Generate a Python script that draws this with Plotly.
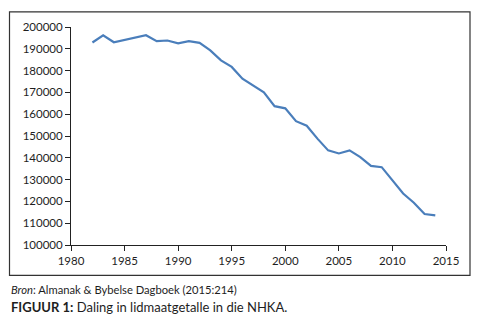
import plotly.graph_objects as go

years = list(range(1982, 2015))
members = [192900, 196200, 193000, 194000, 195100, 196200, 193500, 193800,
           192500, 193500, 192700, 189300, 184700, 181700, 176300, 173200,
           170000, 163700, 162700, 156800, 154700, 148800, 143400, 142000,
           143400, 140300, 136300, 135700, 129500, 123600, 119400, 114200,
           113600]
x_ticks = [1980, 1985, 1990, 1995, 2000, 2005, 2010, 2015]
y_ticks = list(range(100000, 200001, 10000))

FONT = "Lato"
OFF = 8  # page body margin offset

fig = go.Figure()
fig.add_trace(go.Scatter(x=years, y=members, mode="lines",
                         line=dict(color="#4a7ebb", width=2.2),
                         showlegend=False, hoverinfo="skip"))

W, H = 481, 320
L, R, T, B = 71 - OFF, 446 - OFF, 23 - OFF, 245 - OFF
pw, ph = R - L, B - T

def px(x):
    return (x - OFF - L) / pw

def py(y):
    return (B - (y - OFF)) / ph

fig.update_layout(
    width=W, height=H,
    margin=dict(l=L, r=W - R, t=T, b=H - B, pad=0),
    paper_bgcolor="white", plot_bgcolor="white",
    font=dict(family=FONT, size=11, color="#1e1e1e"),
    xaxis=dict(range=[1980, 2015], tickvals=x_ticks, ticktext=[str(v) for v in x_ticks],
               showgrid=False, zeroline=False, showline=True, linecolor="#222222",
               linewidth=1, ticks="outside", ticklen=5, tickcolor="#222222",
               tickfont=dict(family=FONT, size=11.5, color="#1e1e1e")),
    yaxis=dict(range=[100000, 200000], tickvals=y_ticks, ticktext=[str(v) for v in y_ticks],
               showgrid=False, zeroline=False, showline=True, linecolor="#222222",
               linewidth=1, ticks="outside", ticklen=5, tickcolor="#222222",
               tickfont=dict(family=FONT, size=11.5, color="#1e1e1e")),
    shapes=[dict(type="rect", xref="paper", yref="paper",
                 x0=px(9.5), x1=px(470), y0=py(276), y1=py(7.5),
                 line=dict(color="#333333", width=1.2), fillcolor="rgba(0,0,0,0)",
                 layer="below")],
    annotations=[
        dict(xref="paper", yref="paper", x=px(9), y=py(290), xanchor="left", yanchor="middle",
             showarrow=False, align="left",
             text="<i>Bron</i>: Almanak &amp; Bybelse Dagboek (2015:214)",
             font=dict(family=FONT, size=11.2, color="#1e1e1e")),
        dict(xref="paper", yref="paper", x=px(9), y=py(308), xanchor="left", yanchor="middle",
             showarrow=False, align="left",
             text="<b>FIGUUR 1:</b> Daling in lidmaatgetalle in die NHKA.",
             font=dict(family=FONT, size=13, color="#1e1e1e")),
    ],
)

fig.write_html("out.html")
